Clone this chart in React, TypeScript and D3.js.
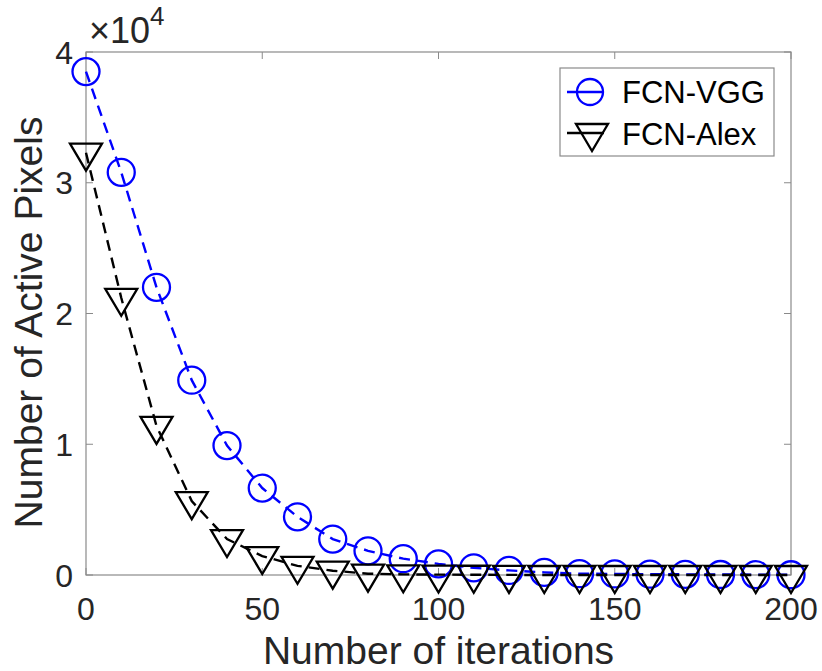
import React from 'react';
import * as d3 from 'd3';

// iterations sampled every 10
const iterations = [0, 10, 20, 30, 40, 50, 60, 70, 80, 90, 100, 110, 120, 130, 140, 150, 160, 170, 180, 190, 200];
const vggPixels = [38500, 30800, 22000, 14900, 9900, 6650, 4450, 2750, 1850, 1250, 850, 550, 350, 200, 100, 80, 60, 50, 40, 30, 20];
const alexPixels = [32300, 21200, 11400, 5650, 2750, 1450, 700, 330, 100, 50, 30, 20, 10, 0, 0, 0, 0, 0, 0, 0, 0];

const xTicks = [0, 50, 100, 150, 200];
const yTicks = [0, 10000, 20000, 30000, 40000];

const seriesNames = ['FCN-VGG', 'FCN-Alex'];

const FONT = '"Liberation Sans", Arial, Helvetica, sans-serif';
const TEXT = '#262626';
const AXIS = '#8a8a8a';

const triPath = 'M-16,-9L16,-9L0,18Z';

const App = () => {
  const W = 822;
  const H = 671;
  const margin = { top: 52, right: 31, bottom: 96, left: 86 };
  const innerW = W - margin.left - margin.right;
  const innerH = H - margin.top - margin.bottom;

  const xScale = d3.scaleLinear().domain([0, 200]).range([margin.left, margin.left + innerW]);
  const yScale = d3.scaleLinear().domain([0, 40000]).range([margin.top + innerH, margin.top]);

  const vggData = iterations.map((d, i) => [d, vggPixels[i]] as [number, number]);
  const alexData = iterations.map((d, i) => [d, alexPixels[i]] as [number, number]);

  const line = d3.line<[number, number]>()
    .x(d => xScale(d[0]))
    .y(d => yScale(d[1]));

  const x0 = xScale(0), x1 = xScale(200);
  const y0 = yScale(0), y1 = yScale(40000);
  const tickLen = 7;

  return (
    <svg width={W} height={H} style={{ position: 'absolute', left: 0, top: 0, background: '#fff' }}>
      {/* axes box */}
      <rect x={x0} y={y1} width={x1 - x0} height={y0 - y1} fill="none" stroke={AXIS} strokeWidth={1.2} />

      {/* x ticks */}
      {xTicks.map(t => (
        <g key={'xt' + t}>
          <line x1={xScale(t)} x2={xScale(t)} y1={y0} y2={y0 - tickLen} stroke={AXIS} />
          <line x1={xScale(t)} x2={xScale(t)} y1={y1} y2={y1 + tickLen} stroke={AXIS} />
          <text x={xScale(t)} y={620} textAnchor="middle" fontFamily={FONT} fontSize={32} fill={TEXT}>{t}</text>
        </g>
      ))}

      {/* y ticks */}
      {yTicks.map(t => (
        <g key={'yt' + t}>
          <line x1={x0} x2={x0 + tickLen} y1={yScale(t)} y2={yScale(t)} stroke={AXIS} />
          <line x1={x1} x2={x1 - tickLen} y1={yScale(t)} y2={yScale(t)} stroke={AXIS} />
          <text x={73} y={yScale(t) + 11.5} textAnchor="end" fontFamily={FONT} fontSize={32} fill={TEXT}>{t / 10000}</text>
        </g>
      ))}

      {/* exponent */}
      <text x={89} y={43} fontFamily={FONT} fontSize={36} fill={TEXT}>
        <tspan>×10</tspan>
        <tspan dy={-18} fontSize={26}>4</tspan>
      </text>

      {/* axis labels */}
      <text x={(x0 + x1) / 2} y={664} textAnchor="middle" fontFamily={FONT} fontSize={39} fill={TEXT}>Number of iterations</text>
      <text transform={`translate(42,${(y0 + y1) / 2 + 9}) rotate(-90)`} textAnchor="middle" fontFamily={FONT} fontSize={39} fill={TEXT}>Number of Active Pixels</text>

      {/* FCN-VGG */}
      <path d={line(vggData) || ''} fill="none" stroke="#0000ff" strokeWidth={2.4} strokeDasharray="11,7" />
      {vggData.map((d, i) => (
        <circle key={'v' + i} cx={xScale(d[0])} cy={yScale(d[1])} r={13.5} fill="none" stroke="#0000ff" strokeWidth={2.3} />
      ))}

      {/* FCN-Alex */}
      <path d={line(alexData) || ''} fill="none" stroke="#000" strokeWidth={2.4} strokeDasharray="11,7" />
      {alexData.map((d, i) => (
        <path key={'a' + i} d={triPath} transform={`translate(${xScale(d[0])},${yScale(d[1])})`} fill="none" stroke="#000" strokeWidth={2.3} strokeLinejoin="miter" />
      ))}

      {/* legend */}
      <rect x={560} y={68} width={214} height={88} fill="#fff" stroke={AXIS} strokeWidth={1.2} />
      <line x1={567} x2={604} y1={92} y2={92} stroke="#0000ff" strokeWidth={2.3} />
      <circle cx={590} cy={92} r={13} fill="none" stroke="#0000ff" strokeWidth={2.3} />
      <text x={622} y={103} fontFamily={FONT} fontSize={31} fill="#000">{seriesNames[0]}</text>
      <line x1={567} x2={604} y1={133} y2={133} stroke="#000" strokeWidth={2.3} />
      <path d={triPath} transform="translate(592,133)" fill="none" stroke="#000" strokeWidth={2.3} />
      <text x={622} y={145} fontFamily={FONT} fontSize={31} fill="#000">{seriesNames[1]}</text>
    </svg>
  );
};

export default App;
